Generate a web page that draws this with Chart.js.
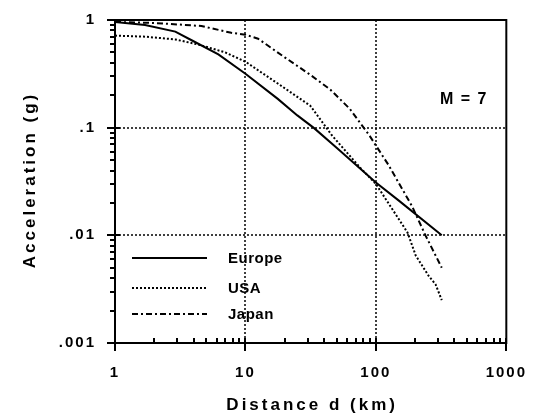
<!DOCTYPE html>
<html>
<head>
<meta charset="utf-8">
<script src="https://cdn.jsdelivr.net/npm/chart.js@4/dist/chart.umd.min.js"></script>
<style>
  html, body { margin: 0; padding: 0; background: #fff; }
  canvas { display: block; }
</style>
</head>
<body>
<canvas id="accChart" width="536" height="420"></canvas>
<script>
// distance (km) / acceleration (g)
const europeDist = [1, 1.7, 2.9, 3.9, 6.2, 10, 17.7, 25, 33.6, 50, 100, 150, 320];
const europeAcc = [0.96, 0.9, 0.78, 0.645, 0.48, 0.317, 0.185, 0.13, 0.099, 0.065, 0.031, 0.021, 0.01];

const usaDist = [1, 1.7, 2.9, 4.4, 7, 10, 17.7, 31.4, 46, 75, 100, 175, 202, 254, 287, 320];
const usaAcc = [0.716, 0.7, 0.66, 0.59, 0.5, 0.41, 0.257, 0.16, 0.085, 0.043, 0.03, 0.0106, 0.0065, 0.0042, 0.0035, 0.0025];

const japanDist = [1, 1.94, 4.6, 7.8, 10, 12.5, 20, 31.4, 44.5, 63, 89, 125, 190, 240, 320];
const japanAcc = [0.96, 0.94, 0.88, 0.76, 0.73, 0.67, 0.45, 0.31, 0.227, 0.15, 0.085, 0.045, 0.0185, 0.01, 0.005];

const xTicks = [1, 10, 100, 1000];
const yTicks = [0.001, 0.01, 0.1, 1];
const yTickLabels = [".001", ".01", ".1", "1"];

const seriesNames = ["Europe", "USA", "Japan"];
const seriesDash = [[], [2, 2], [6, 3, 2, 3]];

const FONT = "'Liberation Sans', Arial, Helvetica, sans-serif";

function toPoints(xs, ys) {
  return xs.map((x, i) => ({ x: x, y: ys[i] }));
}

const datasets = [
  toPoints(europeDist, europeAcc),
  toPoints(usaDist, usaAcc),
  toPoints(japanDist, japanAcc),
].map((pts, i) => ({
  label: seriesNames[i],
  data: pts,
  showLine: true,
  borderColor: "#000",
  borderWidth: 2,
  borderDash: seriesDash[i],
  pointRadius: 0,
  fill: false,
  tension: 0,
}));

const framePlugin = {
  id: "frame",
  beforeDraw(chart) {
    chart.ctx.letterSpacing = "2px";
  },
  beforeDatasetsDraw(chart) {
    const ctx = chart.ctx;
    const x = chart.scales.x;
    const y = chart.scales.y;
    const a = chart.chartArea;
    ctx.save();
    ctx.strokeStyle = "#000";
    ctx.lineWidth = 1.5;
    ctx.setLineDash([2, 2]);
    [10, 100].forEach((v) => {
      const px = Math.round(x.getPixelForValue(v));
      ctx.beginPath();
      ctx.moveTo(px, a.top);
      ctx.lineTo(px, a.bottom);
      ctx.stroke();
    });
    [0.1, 0.01].forEach((v) => {
      const py = Math.round(y.getPixelForValue(v));
      ctx.beginPath();
      ctx.moveTo(a.left, py);
      ctx.lineTo(a.right, py);
      ctx.stroke();
    });
    ctx.restore();
  },
  afterDraw(chart) {
    const ctx = chart.ctx;
    const x = chart.scales.x;
    const y = chart.scales.y;
    const a = chart.chartArea;
    ctx.save();
    ctx.strokeStyle = "#000";
    ctx.setLineDash([]);
    ctx.lineWidth = 2;
    ctx.strokeRect(a.left, a.top, a.right - a.left, a.bottom - a.top);

    // minor and major ticks
    ctx.lineWidth = 2;
    for (let dec = 1; dec < 1000; dec *= 10) {
      for (let k = 1; k <= 10; k++) {
        const px = Math.round(x.getPixelForValue(dec * k));
        ctx.beginPath();
        if (k === 1 || k === 10) {
          ctx.moveTo(px, a.bottom - 5);
          ctx.lineTo(px, a.bottom + 8);
        } else {
          ctx.moveTo(px, a.bottom - 5);
          ctx.lineTo(px, a.bottom);
        }
        ctx.stroke();
      }
    }
    for (let dec = 0.001; dec < 0.9; dec *= 10) {
      for (let k = 1; k <= 10; k++) {
        const py = Math.round(y.getPixelForValue(dec * k));
        ctx.beginPath();
        if (k === 1 || k === 10) {
          ctx.moveTo(a.left - 8, py);
          ctx.lineTo(a.left + 5, py);
        } else {
          ctx.moveTo(a.left - 5, py);
          ctx.lineTo(a.left, py);
        }
        ctx.stroke();
      }
    }

    // legend inside the plot
    const legendY = [258, 288, 314];
    chart.data.datasets.forEach((ds, i) => {
      ctx.lineWidth = ds.borderWidth;
      ctx.setLineDash(ds.borderDash);
      ctx.beginPath();
      ctx.moveTo(132, legendY[i]);
      ctx.lineTo(207, legendY[i]);
      ctx.stroke();
      ctx.setLineDash([]);
      ctx.fillStyle = "#000";
      ctx.font = "bold 15px " + FONT;
      ctx.letterSpacing = "0.5px";
      ctx.textAlign = "left";
      ctx.textBaseline = "middle";
      ctx.fillText(ds.label, 228, legendY[i] + 1);
    });

    // annotation
    ctx.font = "bold 16px " + FONT;
    ctx.letterSpacing = "1.5px";
    ctx.textAlign = "center";
    ctx.textBaseline = "middle";
    ctx.fillText("M = 7", 464, 100);

    // axis titles
    ctx.font = "bold 17px " + FONT;
    ctx.letterSpacing = "3px";
    ctx.fillText("Distance d (km)", (a.left + a.right) / 2 + 1.5, 405);
    ctx.save();
    ctx.translate(30, (a.top + a.bottom) / 2);
    ctx.rotate(-Math.PI / 2);
    ctx.fillText("Acceleration (g)", 1.5, 0);
    ctx.restore();
    ctx.restore();
  },
};

const ctx = document.getElementById("accChart").getContext("2d");
new Chart(ctx, {
  type: "scatter",
  data: { datasets: datasets },
  options: {
    responsive: false,
    animation: false,
    devicePixelRatio: 1,
    layout: { padding: { top: 12, right: 24, left: 0, bottom: 0 } },
    plugins: {
      legend: { display: false },
      tooltip: { enabled: false },
    },
    scales: {
      x: {
        type: "logarithmic",
        min: 1,
        max: 1000,
        grid: { display: false },
        border: { display: false },
        afterBuildTicks: (scale) => {
          scale.ticks = xTicks.map((v) => ({ value: v }));
        },
        afterFit: (scale) => {
          scale.height = 77;
        },
        ticks: {
          color: "#000",
          padding: 13,
          maxRotation: 0,
          font: { family: FONT, size: 15, weight: "bold" },
          callback: (v) => String(v),
        },
      },
      y: {
        type: "logarithmic",
        min: 0.001,
        max: 1,
        grid: { display: false },
        border: { display: false },
        afterBuildTicks: (scale) => {
          scale.ticks = yTicks.map((v) => ({ value: v }));
        },
        afterFit: (scale) => {
          scale.width = 115;
        },
        ticks: {
          color: "#000",
          padding: 11,
          font: { family: FONT, size: 15, weight: "bold" },
          callback: (v) => {
            const i = yTicks.findIndex((t) => Math.abs(t - v) / t < 1e-6);
            return i >= 0 ? yTickLabels[i] : "";
          },
        },
      },
    },
  },
  plugins: [framePlugin],
});
</script>
</body>
</html>
